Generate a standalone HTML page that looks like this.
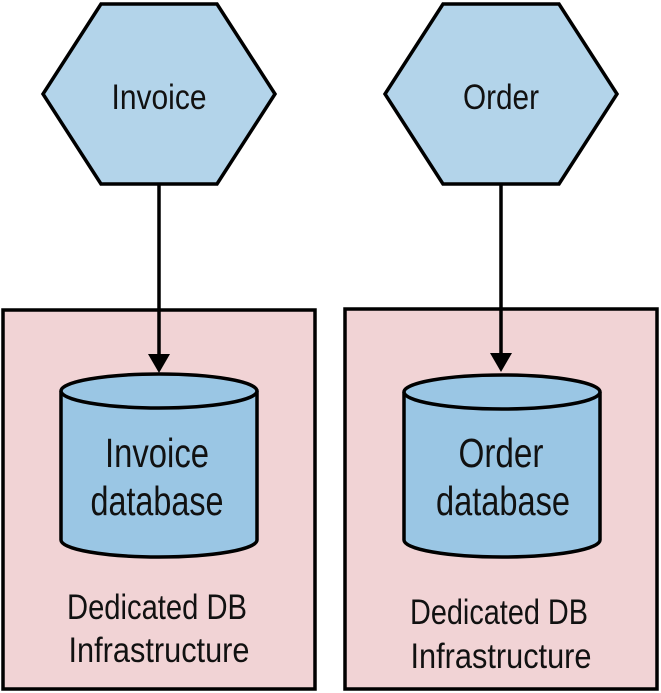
<!DOCTYPE html>
<html><head><style>body{margin:0;background:#fff}svg{display:block}</style></head>
<body>
<svg width="661" height="693" viewBox="0 0 661 693" xmlns="http://www.w3.org/2000/svg" font-family="Liberation Sans Narrow, Liberation Sans, sans-serif">
<g stroke="#000" stroke-width="3.5">
<rect x="3" y="310" width="312" height="379" fill="#f1d3d5"/>
<rect x="345" y="309" width="312" height="380" fill="#f1d3d5"/>
<polygon points="101,4 217,4 275,94 217,184 101,184 43,94" fill="#b3d4ea" stroke-linejoin="miter"/>
<polygon points="443,4 559,4 617,94 559,184 443,184 385,94" fill="#b3d4ea"/>
<line x1="159" y1="184" x2="159" y2="356"/>
<line x1="501" y1="184" x2="501" y2="355"/>
<path d="M61,391 L61,540 A98,17 0 0 0 257,540 L257,391" fill="#9ac6e4"/>
<ellipse cx="159" cy="391" rx="98" ry="17" fill="#9ac6e4"/>
<path d="M404,392 L404,540 A98,17 0 0 0 600,540 L600,392" fill="#9ac6e4"/>
<ellipse cx="502" cy="392" rx="98" ry="17" fill="#9ac6e4"/>
</g>
<polygon points="148,354 170,354 159,373" fill="#000"/>
<polygon points="490,353 512,353 501,372" fill="#000"/>
<g text-anchor="middle" fill="#111">
<text x="159" y="109" font-size="35" textLength="95" lengthAdjust="spacingAndGlyphs">Invoice</text>
<text x="501" y="109" font-size="35" textLength="76" lengthAdjust="spacingAndGlyphs">Order</text>
<text x="157" y="467" font-size="41" textLength="104" lengthAdjust="spacingAndGlyphs">Invoice</text>
<text x="157" y="515" font-size="41" textLength="133" lengthAdjust="spacingAndGlyphs">database</text>
<text x="501" y="467" font-size="41" textLength="85" lengthAdjust="spacingAndGlyphs">Order</text>
<text x="503" y="515" font-size="41" textLength="134" lengthAdjust="spacingAndGlyphs">database</text>
<text x="157" y="619" font-size="35" textLength="180" lengthAdjust="spacingAndGlyphs">Dedicated DB</text>
<text x="159" y="662" font-size="35" textLength="181" lengthAdjust="spacingAndGlyphs">Infrastructure</text>
<text x="499" y="624" font-size="35" textLength="178" lengthAdjust="spacingAndGlyphs">Dedicated DB</text>
<text x="501" y="668" font-size="35" textLength="181" lengthAdjust="spacingAndGlyphs">Infrastructure</text>
</g>
</svg>
</body></html>
